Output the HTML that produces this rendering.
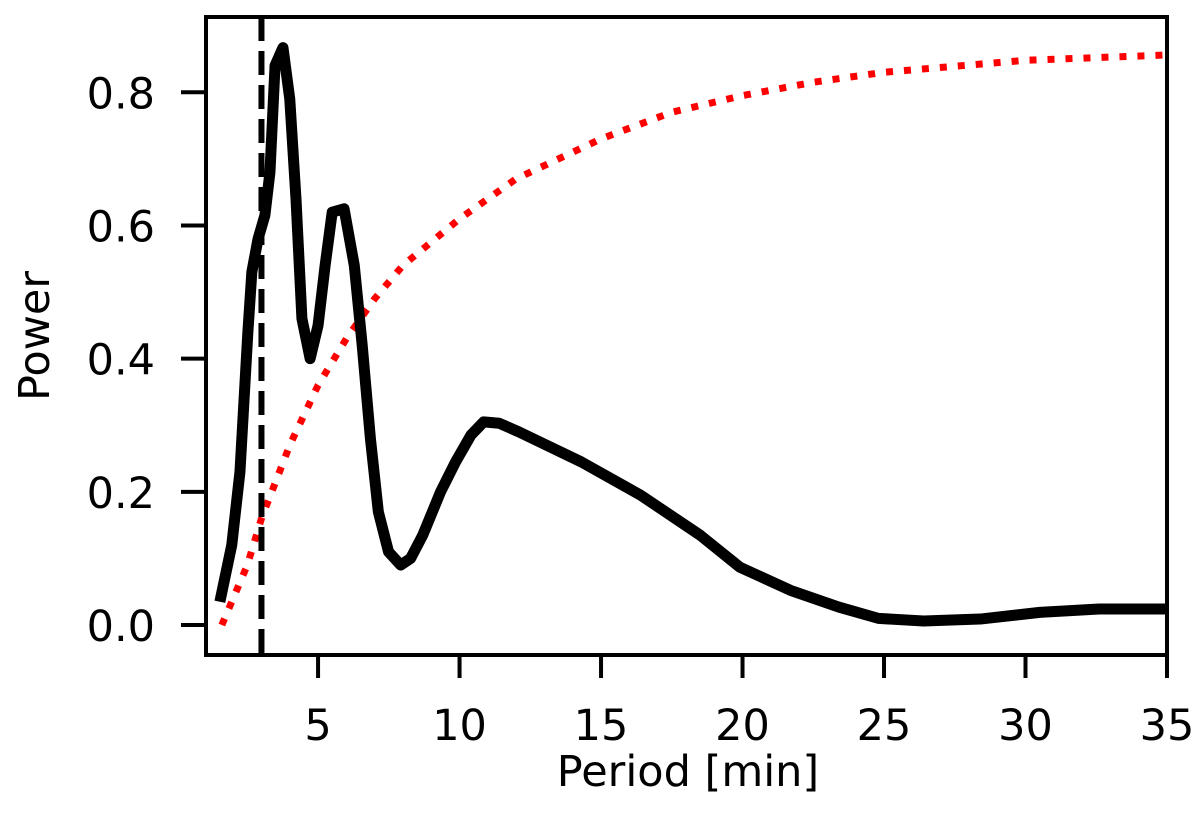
<!DOCTYPE html>
<html><head><meta charset="utf-8"><style>
html,body{margin:0;padding:0;background:#fff;}
svg{display:block;font-family:"DejaVu Sans","Liberation Sans",sans-serif;}
</style></head><body>
<svg id="chart" width="1200" height="827" viewBox="0 0 1200 827">
<g id="plot"></g>
</svg>
<script>
const periods=[1.53,1.95,2.24,2.52,2.66,2.88,3.12,3.3,3.48,3.76,4.0,4.22,4.43,4.72,5.0,5.25,5.5,5.92,6.28,6.56,6.85,7.13,7.49,7.92,8.27,8.7,9.33,9.86,10.4,10.85,11.4,12.1,14.3,16.4,18.5,19.9,21.7,23.4,24.8,26.4,28.4,30.5,32.6,35];
const power=[0.035,0.12,0.23,0.44,0.53,0.58,0.615,0.68,0.84,0.867,0.79,0.64,0.46,0.40,0.45,0.54,0.62,0.625,0.54,0.42,0.28,0.17,0.11,0.09,0.10,0.135,0.20,0.245,0.285,0.305,0.303,0.29,0.245,0.195,0.135,0.087,0.052,0.027,0.01,0.006,0.009,0.019,0.024,0.024];
const sigPeriods=[1.6,2.5,3,4,5,6,7,8,10,12,15,17.5,20,22.5,25,30,35];
const sigPower=[0.0,0.09,0.16,0.27,0.36,0.43,0.49,0.54,0.61,0.67,0.73,0.77,0.795,0.815,0.83,0.848,0.856];
const cutoff=3.0;
const xTicks=[5,10,15,20,25,30,35];
const yTicks=[0.0,0.2,0.4,0.6,0.8];
const L=206,R=1167,T=17,B=655;
const xMin=1.04,xMax=35,yMin=-0.045,yMax=0.913;
const sx=v=>L+(v-xMin)/(xMax-xMin)*(R-L);
const sy=v=>B-(v-yMin)/(yMax-yMin)*(B-T);
const g=document.getElementById('plot');
const NS='http://www.w3.org/2000/svg';
function mk(tag,attrs){const e=document.createElementNS(NS,tag);for(const k in attrs)e.setAttribute(k,attrs[k]);g.appendChild(e);return e;}
let defs=document.createElementNS(NS,'defs');defs.innerHTML='<clipPath id="clip"><rect x="'+L+'" y="'+T+'" width="'+(R-L)+'" height="'+(B-T)+'"/></clipPath>';g.appendChild(defs);
const sig=mk('polyline',{points:sigPeriods.map((p,i)=>sx(p)+','+sy(sigPower[i])).join(' '),fill:'none',stroke:'#ff0000','stroke-width':7,'stroke-dasharray':'7,11','stroke-linejoin':'round','clip-path':'url(#clip)'});


const cl=mk('line',{x1:sx(cutoff),x2:sx(cutoff),y1:T,y2:B,stroke:'#000','stroke-width':6,'stroke-dasharray':'24,10'});


const pl=mk('polyline',{points:periods.map((p,i)=>sx(p)+','+sy(power[i])).join(' '),fill:'none',stroke:'#000','stroke-width':11,'stroke-linejoin':'round','clip-path':'url(#clip)'});


const fr=mk('rect',{x:L,y:T,width:R-L,height:B-T,fill:'none',stroke:'#000','stroke-width':4});


xTicks.forEach(t=>{const x=sx(t);
const tk=mk('line',{x1:x,x2:x,y1:B,y2:B+23,stroke:'#000','stroke-width':4});


const tx=mk('text',{x:x,y:740,'text-anchor':'middle',style:'font-size:43px',fill:'#000'});tx.textContent=t;

});
yTicks.forEach(t=>{const y=sy(t);
const tk=mk('line',{x1:L-25,x2:L,y1:y,y2:y,stroke:'#000','stroke-width':4});


const tx=mk('text',{x:155,y:y+16,'text-anchor':'end',style:'font-size:43px',fill:'#000'});tx.textContent=t.toFixed(1);

});
const xl=mk('text',{x:688,y:786,'text-anchor':'middle',style:'font-size:43px',fill:'#000'});xl.textContent='Period [min]';


const yl=mk('text',{x:0,y:0,'text-anchor':'middle',style:'font-size:43px',fill:'#000',transform:'translate(49,'+((T+B)/2)+') rotate(-90)'});yl.textContent='Power';


</script>
</body></html>
